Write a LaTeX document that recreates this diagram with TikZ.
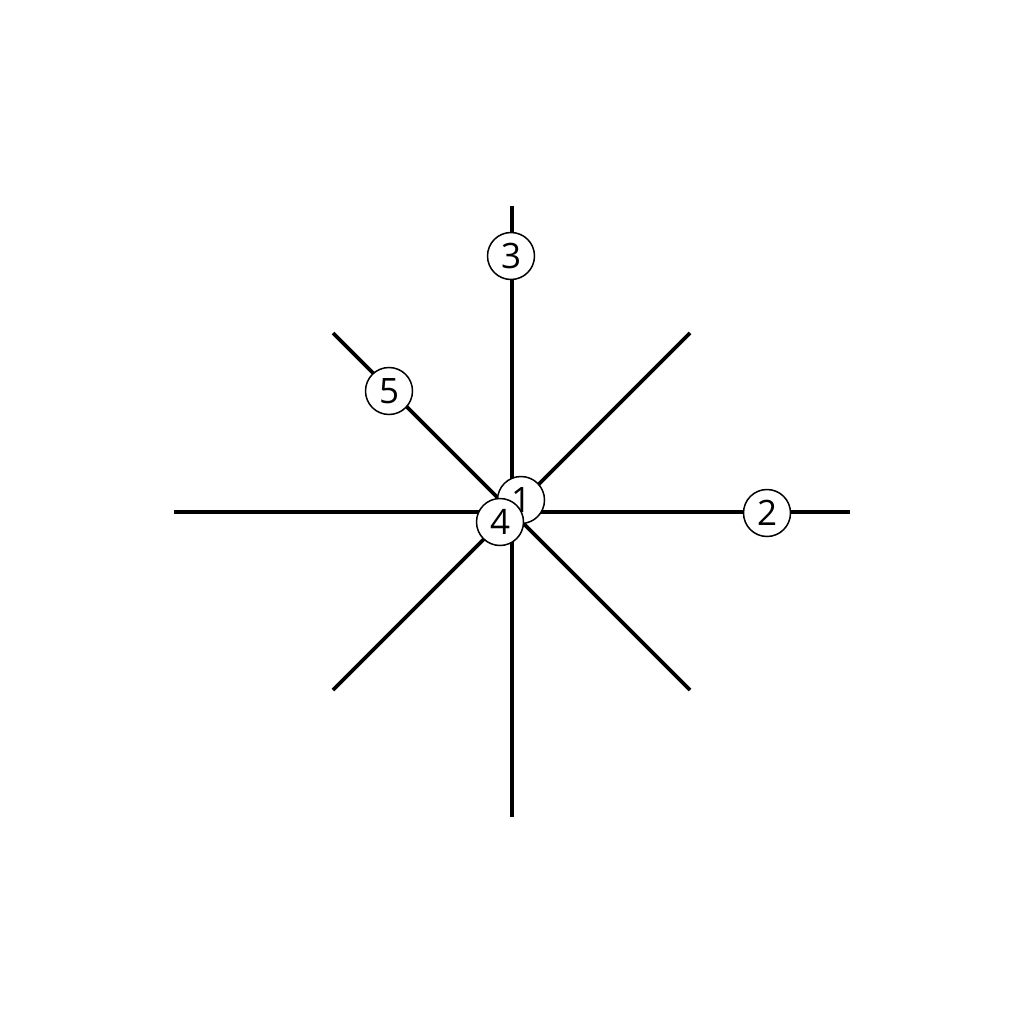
\documentclass[tikz,border=0pt]{standalone}
\usepackage{fontspec}
\setmainfont{Open Sans}
\begin{document}
\begin{tikzpicture}[x=1pt,y=-1pt,
  ray/.style={line width=3.6pt},
  badge/.style={circle,draw,fill=white,line width=1.5pt,minimum size=47pt,inner sep=0pt,font=\fontsize{35}{36}\selectfont}]
\useasboundingbox[fill=white] (0,0) rectangle (1024,1024);
\coordinate (c) at (512,512);
\coordinate (e) at (850,512);
\coordinate (w) at (174,512);
\coordinate (n) at (512,206);
\coordinate (s) at (512,817);
\coordinate (ne) at (690,333);
\coordinate (nw) at (333,333);
\coordinate (se) at (690,690);
\coordinate (sw) at (333,690);
\draw[ray] (w) -- (e);
\draw[ray] (n) -- (s);
\draw[ray] (nw) -- (se);
\draw[ray] (ne) -- (sw);
\node[badge] (b3) at (511,256) {3};
\node[badge] (b5) at (389,391) {5};
\node[badge] (b2) at (767,513) {2};
\node[badge] (b1) at (521,500) {1};
\node[badge] (b4) at (500,522) {4};
\end{tikzpicture}
\end{document}
